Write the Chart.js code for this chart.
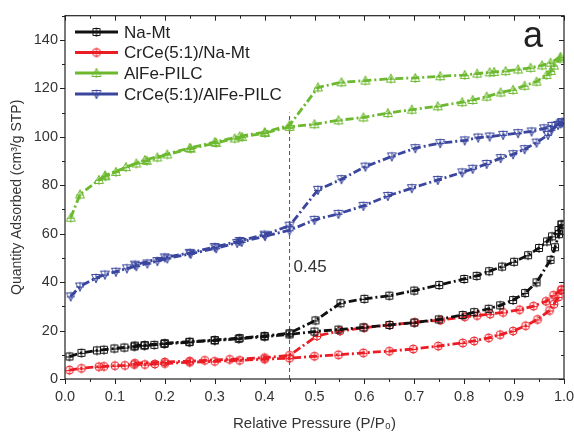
<!DOCTYPE html>
<html>
<head>
<meta charset="utf-8">
<script src="https://cdn.jsdelivr.net/npm/chart.js@4.4.1/dist/chart.umd.min.js"></script>
<style>
  html, body { margin: 0; padding: 0; background: #fff; }
  canvas { display: block; }
</style>
</head>
<body>
<canvas id="iso" width="574" height="434"></canvas>
<script>
// N2 isotherms: adsorption / desorption branches (P/P0, cm3/g STP)
const naMtAdsP = [0.009,0.033,0.064,0.078,0.099,0.119,0.139,0.159,0.179,0.199,0.249,0.300,0.348,0.400,0.450,0.500,0.548,0.598,0.650,0.700,0.749,0.797,0.820,0.849,0.872,0.898,0.922,0.945,0.973,0.982,0.990,0.995];
const naMtAdsQ = [9.3,10.8,11.8,12.1,12.6,13.0,13.4,13.8,14.1,14.5,15.2,15.9,16.6,17.5,18.4,19.6,20.4,21.3,22.3,23.3,24.6,26.4,27.6,29.0,30.4,32.6,35.5,39.9,49.2,54.4,59.8,63.8];
const naMtDesP = [0.995,0.989,0.976,0.966,0.950,0.928,0.900,0.876,0.850,0.825,0.800,0.750,0.700,0.650,0.600,0.552,0.502,0.450,0.400,0.350,0.300,0.250,0.200,0.160,0.140];
const naMtDesQ = [63.8,61.5,58.9,56.8,54.1,51.1,48.4,46.4,44.5,42.6,41.3,38.8,36.5,34.4,33.1,31.3,24.2,18.9,17.8,16.9,16.1,15.4,14.8,14.0,13.8];

const crNaAdsP = [0.009,0.033,0.068,0.078,0.100,0.120,0.139,0.160,0.180,0.200,0.250,0.300,0.350,0.400,0.450,0.500,0.548,0.598,0.650,0.698,0.748,0.797,0.820,0.849,0.872,0.898,0.923,0.947,0.971,0.980,0.989,0.995];
const crNaAdsQ = [3.7,4.4,5.1,5.2,5.5,5.6,6.0,6.0,6.2,6.4,6.9,7.3,7.7,8.2,8.6,9.4,10.0,10.8,11.5,12.4,13.6,14.9,15.7,17.0,18.3,19.8,22.0,24.6,28.3,30.9,33.9,36.9];
const crNaDesP = [0.995,0.979,0.964,0.939,0.911,0.878,0.852,0.826,0.801,0.753,0.701,0.651,0.600,0.551,0.505,0.450,0.400,0.330,0.280,0.250,0.200,0.140];
const crNaDesQ = [36.9,34.6,32.1,30.1,28.6,27.5,26.8,26.2,25.7,24.3,23.4,22.3,21.2,19.8,17.8,9.8,8.8,8.1,7.7,7.4,7.0,6.5];

const pilcAdsP = [0.0115,0.030,0.068,0.081,0.102,0.122,0.143,0.164,0.185,0.205,0.252,0.303,0.340,0.355,0.401,0.450,0.500,0.548,0.598,0.647,0.695,0.747,0.796,0.817,0.845,0.873,0.898,0.921,0.945,0.965,0.974,0.980,0.992];
const pilcAdsQ = [66.6,76.2,82.2,83.7,85.5,87.5,89.0,90.1,91.5,92.7,95.1,97.5,99.3,99.9,101.6,104.1,105.2,106.8,108.0,109.8,111.2,112.6,114.3,115.2,116.6,118.3,119.4,121.1,122.8,125.5,127.2,129.4,132.3];
const pilcDesP = [0.993,0.973,0.956,0.933,0.908,0.883,0.860,0.851,0.826,0.801,0.752,0.702,0.653,0.602,0.554,0.507,0.450,0.400,0.350,0.300,0.250,0.160,0.080];
const pilcDesQ = [133.0,130.6,129.5,128.5,127.8,127.1,126.8,126.6,126.1,125.5,125.0,124.3,124.0,123.2,122.5,120.4,104.8,101.9,100.2,97.8,95.4,90.4,84.0];

const crPilcAdsP = [0.0115,0.030,0.062,0.080,0.102,0.124,0.143,0.165,0.185,0.205,0.252,0.303,0.345,0.354,0.401,0.450,0.500,0.548,0.598,0.647,0.695,0.747,0.796,0.817,0.845,0.873,0.898,0.921,0.945,0.968,0.975,0.988,0.996];
const crPilcAdsQ = [34.1,38.2,41.7,43.1,44.3,45.7,46.6,47.7,48.7,49.8,51.7,54.0,56.2,56.6,59.0,61.4,65.7,68.2,71.5,75.6,78.8,82.2,85.3,86.8,88.8,91.2,92.8,94.9,97.6,100.8,102.9,104.9,106.0];
const crPilcDesP = [0.996,0.993,0.976,0.960,0.935,0.908,0.878,0.851,0.828,0.801,0.752,0.702,0.655,0.602,0.554,0.507,0.450,0.400,0.350,0.300,0.250,0.200,0.140];
const crPilcDesQ = [106.0,105.5,104.5,103.5,102.2,101.5,100.8,100.1,99.7,98.5,97.4,95.3,91.9,87.7,82.5,78.1,63.3,59.6,57.0,54.5,52.1,50.2,47.2];

const sampleNames = ['Na-Mt', 'CrCe(5:1)/Na-Mt', 'AlFe-PILC', 'CrCe(5:1)/AlFe-PILC'];
const sampleColors = ['#111111', '#ec1c24', '#6cb92f', '#3a469e'];
const markerShapes = ['square', 'circle', 'triUp', 'triDown'];

const xTicks = [0, 0.1, 0.2, 0.3, 0.4, 0.5, 0.6, 0.7, 0.8, 0.9, 1.0];
const yTicks = [0, 20, 40, 60, 80, 100, 120, 140];
const markP = 0.45;

// hollow marker with a plus inside, Origin style
function makeMarker(shape, color) {
  const c = document.createElement('canvas');
  c.width = 12; c.height = 12;
  const g = c.getContext('2d');
  g.strokeStyle = color;
  g.lineWidth = 1;
  g.beginPath();
  if (shape === 'square') {
    g.rect(2.5, 2.5, 7, 7);
  } else if (shape === 'circle') {
    g.arc(6, 6, 4, 0, Math.PI * 2);
  } else if (shape === 'triUp') {
    g.moveTo(6, 1.5); g.lineTo(10.5, 9.5); g.lineTo(1.5, 9.5); g.closePath();
  } else {
    g.moveTo(1.5, 2.5); g.lineTo(10.5, 2.5); g.lineTo(6, 10.5); g.closePath();
  }
  g.moveTo(6, 1.5); g.lineTo(6, 11);
  g.moveTo(2, 6.5); g.lineTo(10, 6.5);
  g.stroke();
  return c;
}
const markers = markerShapes.map((s, i) => makeMarker(s, sampleColors[i]));

function pts(p, q) { return p.map((v, i) => ({ x: v, y: q[i] })); }

function branch(i, p, q) {
  return {
    label: sampleNames[i],
    data: pts(p, q),
    borderColor: sampleColors[i],
    backgroundColor: sampleColors[i],
    borderWidth: 2.8,
    borderDash: [8, 3, 2, 3],
    pointStyle: markers[i],
    pointRadius: 5,
    pointHoverRadius: 5,
    fill: false,
    tension: 0
  };
}

const datasets = [
  branch(0, naMtAdsP, naMtAdsQ), branch(0, naMtDesP, naMtDesQ),
  branch(1, crNaAdsP, crNaAdsQ), branch(1, crNaDesP, crNaDesQ),
  branch(2, pilcAdsP, pilcAdsQ), branch(2, pilcDesP, pilcDesQ),
  branch(3, crPilcAdsP, crPilcAdsQ), branch(3, crPilcDesP, crPilcDesQ),
  {
    label: 'P/P0 = 0.45',
    data: [{ x: markP, y: 0 }, { x: markP, y: 110 }],
    borderColor: '#555',
    borderWidth: 1,
    borderDash: [4, 3],
    pointRadius: 0,
    fill: false
  }
];

const FONT = '"Liberation Sans", Arial, sans-serif';

// frame, tick marks, legend and annotations
const decor = {
  id: 'decor',
  afterDraw(chart) {
    const { ctx, chartArea: a, scales: { x, y } } = chart;
    ctx.save();
    ctx.strokeStyle = '#222';
    ctx.lineWidth = 1.2;
    ctx.strokeRect(a.left, a.top, a.right - a.left, a.bottom - a.top);

    ctx.lineWidth = 1;
    ctx.beginPath();
    for (let v = 0; v <= 1.0001; v += 0.05) {
      const px = Math.round(x.getPixelForValue(v)) + 0.5;
      const len = Math.abs(v * 10 - Math.round(v * 10)) < 1e-6 ? 5 : 3;
      ctx.moveTo(px, a.bottom); ctx.lineTo(px, a.bottom + len);
      ctx.moveTo(px, a.top); ctx.lineTo(px, a.top + len);
    }
    for (let v = 0; v <= 150; v += 10) {
      const py = Math.round(y.getPixelForValue(v)) + 0.5;
      const len = v % 20 === 0 ? 5 : 3;
      ctx.moveTo(a.left, py); ctx.lineTo(a.left - len, py);
      ctx.moveTo(a.right, py); ctx.lineTo(a.right - len, py);
    }
    ctx.stroke();

    // legend
    ctx.font = '17px ' + FONT;
    ctx.textBaseline = 'middle';
    const rows = [32, 52.5, 73, 94];
    sampleNames.forEach((name, i) => {
      const ry = rows[i];
      ctx.strokeStyle = sampleColors[i];
      ctx.lineWidth = 3;
      ctx.setLineDash([]);
      ctx.beginPath();
      ctx.moveTo(75, ry); ctx.lineTo(118, ry);
      ctx.stroke();
      ctx.drawImage(markers[i], 96.5 - 6, ry - 6);
      ctx.fillStyle = '#222';
      ctx.fillText(name, 124, ry + 1);
    });

    // P/P0 marker label and panel letter
    ctx.fillStyle = '#333';
    ctx.textBaseline = 'alphabetic';
    ctx.font = '17px ' + FONT;
    ctx.fillText('0.45', x.getPixelForValue(markP) + 4, y.getPixelForValue(44));
    ctx.fillStyle = '#222';
    ctx.font = '36px ' + FONT;
    ctx.fillText('a', 523, 47);
    ctx.restore();
  }
};

new Chart(document.getElementById('iso'), {
  type: 'line',
  data: { datasets },
  plugins: [decor],
  options: {
    responsive: false,
    animation: false,
    events: [],
    layout: { padding: { top: 14, right: 0, left: 0, bottom: 0 } },
    plugins: { legend: { display: false }, tooltip: { enabled: false } },
    scales: {
      x: {
        type: 'linear',
        min: 0, max: 1,
        afterBuildTicks: s => { s.ticks = xTicks.map(v => ({ value: v })); },
        afterFit: s => { s.height = 55; s.paddingRight = 10; },
        grid: { display: false, drawTicks: false },
        border: { display: false },
        ticks: {
          padding: 9,
          color: '#333',
          font: { family: FONT, size: 14.5 },
          callback: v => v.toFixed(1)
        },
        title: {
          display: true,
          text: 'Relative Pressure (P/P\u2080)',
          color: '#333',
          font: { family: FONT, size: 15 },
          padding: { top: 0, bottom: 1 }
        }
      },
      y: {
        type: 'linear',
        min: 0, max: 150,
        afterBuildTicks: s => { s.ticks = yTicks.map(v => ({ value: v })); },
        afterFit: s => { s.width = 65; },
        grid: { display: false, drawTicks: false },
        border: { display: false },
        ticks: {
          padding: 7,
          color: '#333',
          font: { family: FONT, size: 14.5 }
        },
        title: {
          display: true,
          text: 'Quantity Adsorbed (cm\u00b3/g STP)',
          color: '#333',
          font: { family: FONT, size: 14 },
          padding: { top: 9, bottom: 0 }
        }
      }
    }
  }
});
</script>
</body>
</html>
